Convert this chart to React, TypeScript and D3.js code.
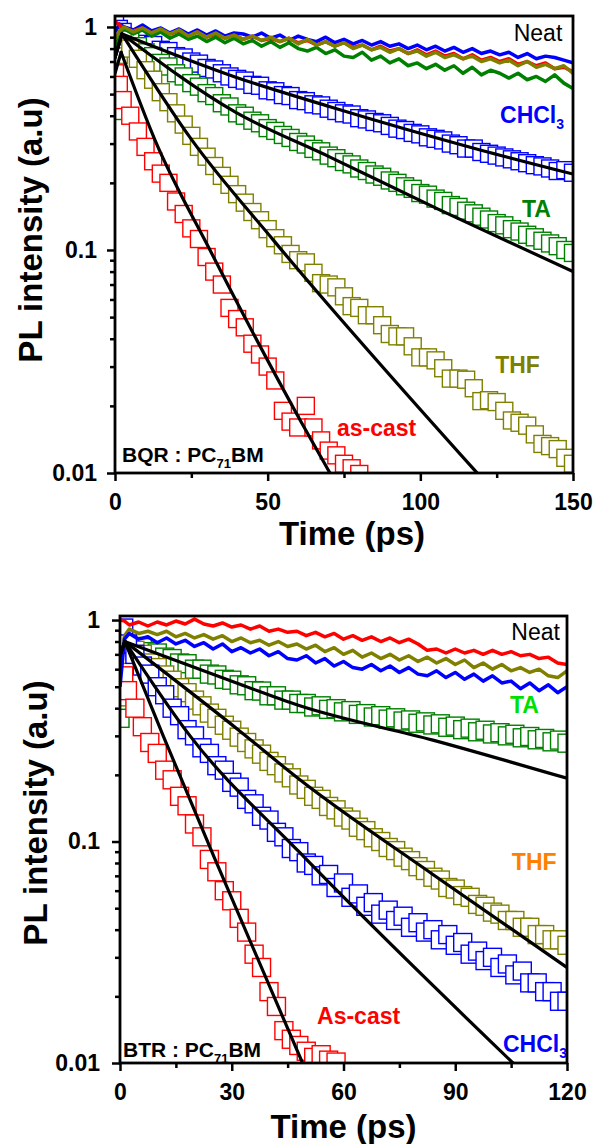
import { useEffect, useRef } from 'react';
import * as d3 from 'd3';

const FONT = '"Liberation Sans", Arial, Helvetica, sans-serif';

// ---------- panel 1 : BQR : PC71BM ----------
// neat films, plotted as lines
const timeBQR = [0, 1.5, 3, 6, 9, 12, 15, 18, 21, 24, 27, 30, 33, 36, 39, 42, 45, 48, 51, 54, 57, 60, 63, 66, 69, 72, 75, 78, 81, 84, 87, 90, 93, 96, 99, 102, 105, 108, 111, 114, 117, 120, 123, 126, 129, 132, 135, 138, 141, 144, 147, 150];
const bqrNeatBlue = [0.95, 1.03, 1.0, 0.97, 1.02, 0.96, 0.99, 0.94, 0.98, 0.93, 0.97, 0.92, 0.96, 0.91, 0.94, 0.93, 0.9, 0.94, 0.89, 0.92, 0.87, 0.91, 0.88, 0.86, 0.9, 0.85, 0.88, 0.84, 0.87, 0.83, 0.86, 0.82, 0.84, 0.8, 0.83, 0.79, 0.82, 0.78, 0.81, 0.77, 0.8, 0.76, 0.78, 0.75, 0.77, 0.73, 0.76, 0.72, 0.74, 0.73, 0.71, 0.69];
const bqrNeatRed = [1.06, 1.02, 0.98, 0.96, 0.99, 0.94, 0.97, 0.93, 0.96, 0.91, 0.95, 0.9, 0.93, 0.89, 0.92, 0.88, 0.91, 0.87, 0.89, 0.86, 0.89, 0.85, 0.87, 0.83, 0.86, 0.82, 0.85, 0.81, 0.83, 0.79, 0.82, 0.78, 0.8, 0.76, 0.79, 0.75, 0.78, 0.74, 0.76, 0.72, 0.75, 0.71, 0.73, 0.7, 0.72, 0.68, 0.7, 0.67, 0.69, 0.65, 0.66, 0.63];
const bqrNeatGreen = [0.8, 0.94, 0.98, 0.93, 0.97, 0.91, 0.95, 0.89, 0.93, 0.88, 0.91, 0.86, 0.9, 0.85, 0.89, 0.84, 0.87, 0.82, 0.86, 0.81, 0.85, 0.8, 0.78, 0.81, 0.76, 0.79, 0.74, 0.73, 0.77, 0.71, 0.74, 0.69, 0.72, 0.67, 0.69, 0.65, 0.68, 0.64, 0.67, 0.62, 0.66, 0.61, 0.64, 0.62, 0.59, 0.62, 0.58, 0.6, 0.57, 0.61, 0.56, 0.53];
const bqrNeatOlive = [0.88, 0.96, 1.0, 0.95, 0.99, 0.94, 0.98, 0.93, 0.97, 0.91, 0.95, 0.9, 0.94, 0.89, 0.92, 0.88, 0.91, 0.87, 0.9, 0.86, 0.89, 0.84, 0.88, 0.83, 0.86, 0.82, 0.85, 0.8, 0.83, 0.79, 0.81, 0.77, 0.8, 0.76, 0.78, 0.74, 0.77, 0.73, 0.75, 0.72, 0.74, 0.7, 0.72, 0.69, 0.71, 0.67, 0.7, 0.66, 0.68, 0.65, 0.67, 0.62];

// blends, plotted as open squares
const timeBQRsq = [0, 1.25, 2.5, 5, 7.5, 10, 12.5, 15, 17.5, 20, 22.5, 25, 27.5, 30, 32.5, 35, 37.5, 40, 42.5, 45, 47.5, 50, 52.5, 55, 57.5, 60, 62.5, 65, 67.5, 70, 72.5, 75, 77.5, 80, 82.5, 85, 87.5, 90, 92.5, 95, 97.5, 100, 102.5, 105, 107.5, 110, 112.5, 115, 117.5, 120, 122.5, 125, 127.5, 130, 132.5, 135, 137.5, 140, 142.5, 145, 147.5, 150];
const bqrChcl3 = [1.05, 0.98, 0.95, 0.9, 0.88, 0.84, 0.83, 0.79, 0.78, 0.74, 0.73, 0.7, 0.685, 0.655, 0.645, 0.62, 0.6, 0.585, 0.575, 0.55, 0.545, 0.52, 0.515, 0.495, 0.49, 0.47, 0.465, 0.45, 0.445, 0.43, 0.42, 0.41, 0.405, 0.39, 0.385, 0.375, 0.37, 0.36, 0.35, 0.345, 0.335, 0.33, 0.32, 0.315, 0.31, 0.3, 0.295, 0.285, 0.285, 0.275, 0.27, 0.265, 0.26, 0.255, 0.25, 0.245, 0.24, 0.237, 0.232, 0.226, 0.228, 0.222];
const bqrTA = [0.42, 0.78, 0.9, 0.86, 0.82, 0.77, 0.74, 0.69, 0.665, 0.62, 0.6, 0.56, 0.54, 0.505, 0.49, 0.455, 0.44, 0.41, 0.4, 0.38, 0.37, 0.352, 0.342, 0.328, 0.318, 0.305, 0.297, 0.284, 0.277, 0.265, 0.258, 0.248, 0.242, 0.232, 0.226, 0.218, 0.213, 0.205, 0.2, 0.193, 0.188, 0.18, 0.177, 0.17, 0.166, 0.159, 0.156, 0.15, 0.146, 0.141, 0.137, 0.132, 0.129, 0.124, 0.121, 0.117, 0.114, 0.11, 0.107, 0.104, 0.1, 0.097];
const bqrTHF = [0.5, 0.75, 0.88, 0.8, 0.72, 0.64, 0.58, 0.51, 0.46, 0.41, 0.365, 0.325, 0.29, 0.262, 0.238, 0.215, 0.196, 0.178, 0.163, 0.148, 0.136, 0.124, 0.113, 0.105, 0.096, 0.09, 0.088, 0.079, 0.071, 0.07, 0.068, 0.062, 0.056, 0.055, 0.051, 0.051, 0.046, 0.042, 0.041, 0.041, 0.037, 0.033, 0.033, 0.032, 0.0295, 0.0265, 0.0265, 0.0262, 0.024, 0.021, 0.0212, 0.0208, 0.019, 0.0172, 0.0168, 0.0163, 0.0149, 0.0135, 0.0132, 0.0128, 0.0117, 0.011];
const bqrAscast = [0.62, 0.55, 0.47, 0.4, 0.34, 0.29, 0.25, 0.22, 0.2, 0.165, 0.145, 0.125, 0.112, 0.093, 0.08, 0.07, 0.055, 0.049, 0.045, 0.038, 0.034, 0.03, 0.026, 0.019, 0.017, 0.016, 0.02, 0.016, 0.014, 0.0126, 0.012, 0.011, 0.0105, 0.0099];

// fitted decays
const bqrFitChcl3T = [0, 2.3, 39.3, 70.4, 119.6, 150];
const bqrFitChcl3 = [0.73, 0.93, 0.597, 0.439, 0.281, 0.219];
const bqrFitTAT = [0, 2.3, 39.3, 70.4, 106.5, 150];
const bqrFitTA = [0.73, 0.93, 0.416, 0.261, 0.151, 0.08];
const bqrFitTHFT = [0, 2.3, 25.2, 51.8, 118.6];
const bqrFitTHF = [0.73, 0.93, 0.311, 0.111, 0.01];
const bqrFitAscastT = [0, 2.0, 13.1, 31.1, 60.6, 70.4];
const bqrFitAscast = [0.62, 0.77, 0.311, 0.1, 0.0173, 0.01];

// ---------- panel 2 : BTR : PC71BM ----------
const timeBTR = [0, 1.2, 2.5, 5, 7.5, 10, 12.5, 15, 17.5, 20, 22.5, 25, 27.5, 30, 32.5, 35, 37.5, 40, 42.5, 45, 47.5, 50, 52.5, 55, 57.5, 60, 62.5, 65, 67.5, 70, 72.5, 75, 77.5, 80, 82.5, 85, 87.5, 90, 92.5, 95, 97.5, 100, 102.5, 105, 107.5, 110, 112.5, 115, 117.5, 120];
const btrNeatRed = [1.0, 0.99, 0.95, 0.98, 0.94, 0.98, 0.95, 0.99, 0.96, 1.01, 0.96, 0.94, 0.97, 0.93, 0.95, 0.91, 0.94, 0.89, 0.91, 0.88, 0.89, 0.85, 0.88, 0.84, 0.87, 0.82, 0.85, 0.81, 0.84, 0.8, 0.83, 0.79, 0.82, 0.78, 0.73, 0.74, 0.71, 0.74, 0.71, 0.73, 0.7, 0.73, 0.7, 0.72, 0.69, 0.7, 0.67, 0.68, 0.64, 0.63];
const btrNeatOlive = [0.55, 0.85, 0.91, 0.87, 0.89, 0.86, 0.89, 0.84, 0.87, 0.83, 0.86, 0.82, 0.85, 0.8, 0.83, 0.79, 0.81, 0.77, 0.8, 0.76, 0.78, 0.74, 0.77, 0.72, 0.75, 0.7, 0.73, 0.68, 0.71, 0.67, 0.7, 0.66, 0.69, 0.65, 0.68, 0.64, 0.67, 0.63, 0.66, 0.61, 0.64, 0.6, 0.63, 0.59, 0.61, 0.58, 0.6, 0.56, 0.55, 0.59];
const btrNeatBlue = [0.5, 0.82, 0.87, 0.82, 0.84, 0.79, 0.83, 0.78, 0.81, 0.76, 0.79, 0.74, 0.78, 0.72, 0.75, 0.71, 0.74, 0.69, 0.72, 0.67, 0.66, 0.69, 0.64, 0.67, 0.62, 0.65, 0.61, 0.6, 0.63, 0.59, 0.62, 0.58, 0.61, 0.57, 0.56, 0.59, 0.55, 0.58, 0.54, 0.57, 0.53, 0.56, 0.52, 0.53, 0.49, 0.52, 0.48, 0.51, 0.47, 0.5];

const timeBTRsq = [0, 1, 2, 4, 6, 8, 10, 12, 14, 16, 18, 20, 22, 24, 26, 28, 30, 32, 34, 36, 38, 40, 42, 44, 46, 48, 50, 52, 54, 56, 58, 60, 62, 64, 66, 68, 70, 72, 74, 76, 78, 80, 82, 84, 86, 88, 90, 92, 94, 96, 98, 100, 102, 104, 106, 108, 110, 112, 114, 116, 118, 120];
const btrTA = [0.36, 0.72, 0.8, 0.76, 0.75, 0.72, 0.71, 0.68, 0.67, 0.64, 0.635, 0.6, 0.6, 0.57, 0.565, 0.54, 0.535, 0.51, 0.505, 0.48, 0.478, 0.455, 0.455, 0.435, 0.435, 0.42, 0.42, 0.405, 0.41, 0.395, 0.398, 0.385, 0.39, 0.375, 0.378, 0.365, 0.37, 0.357, 0.362, 0.35, 0.354, 0.342, 0.347, 0.336, 0.34, 0.328, 0.332, 0.32, 0.325, 0.313, 0.318, 0.306, 0.31, 0.3, 0.305, 0.294, 0.298, 0.288, 0.292, 0.282, 0.287, 0.278];
const btrTHF = [0.45, 0.7, 0.8, 0.73, 0.7, 0.64, 0.61, 0.565, 0.535, 0.495, 0.47, 0.435, 0.41, 0.38, 0.36, 0.335, 0.318, 0.296, 0.28, 0.262, 0.248, 0.23, 0.22, 0.204, 0.194, 0.18, 0.172, 0.16, 0.155, 0.144, 0.139, 0.129, 0.125, 0.116, 0.112, 0.104, 0.1, 0.094, 0.091, 0.085, 0.082, 0.077, 0.074, 0.069, 0.067, 0.062, 0.061, 0.057, 0.056, 0.052, 0.051, 0.048, 0.047, 0.044, 0.044, 0.041, 0.041, 0.038, 0.038, 0.036, 0.036, 0.034];
const btrChcl3 = [0.52, 0.92, 0.78, 0.7, 0.62, 0.57, 0.5, 0.46, 0.4, 0.37, 0.32, 0.3, 0.265, 0.25, 0.22, 0.21, 0.185, 0.176, 0.155, 0.148, 0.13, 0.125, 0.11, 0.105, 0.093, 0.09, 0.08, 0.078, 0.07, 0.071, 0.062, 0.065, 0.056, 0.058, 0.051, 0.053, 0.047, 0.049, 0.044, 0.046, 0.041, 0.043, 0.039, 0.04, 0.036, 0.038, 0.034, 0.035, 0.031, 0.032, 0.029, 0.03, 0.027, 0.028, 0.025, 0.026, 0.023, 0.023, 0.021, 0.021, 0.019, 0.019];
const btrAscast = [0.5, 0.56, 0.48, 0.4, 0.33, 0.28, 0.25, 0.21, 0.19, 0.16, 0.145, 0.12, 0.105, 0.083, 0.073, 0.06, 0.054, 0.045, 0.039, 0.031, 0.027, 0.021, 0.018, 0.014, 0.0128, 0.012, 0.0113, 0.0106, 0.0109, 0.0103, 0.0101];

const btrFitTAT = [0, 1.3, 32.2, 48.3, 84, 120];
const btrFitTA = [0.69, 0.8, 0.513, 0.41, 0.287, 0.193];
const btrFitTHFT = [0, 1.3, 32.2, 48.3, 84, 120];
const btrFitTHF = [0.69, 0.8, 0.315, 0.19, 0.071, 0.027];
const btrFitChcl3T = [0, 1.3, 18.8, 48.3, 105.5];
const btrFitChcl3 = [0.69, 0.8, 0.3, 0.089, 0.01];
const btrFitAscastT = [0, 1.3, 11.6, 26.8, 49];
const btrFitAscast = [0.69, 0.8, 0.3, 0.074, 0.01];

const BLUE = '#0000ff';
const RED = '#ff0000';
const GREEN = '#008000';
const OLIVE = '#808000';

const zip = (t, v) => v.map((d, i) => [t[i], d]);

const panels = [
    {
        id: 'bqr',
        left: 115, right: 573, top: 16, bottom: 473,
        xDomain: [0, 150], yDomain: [0.01, 1.12],
        xMajor: [0, 50, 100, 150], xMinor: [25, 75, 125],
        yLabelPad: 10, markerSize: 17,
        squares: [
            { color: BLUE, pts: zip(timeBQRsq, bqrChcl3) },
            { color: GREEN, pts: zip(timeBQRsq, bqrTA) },
            { color: OLIVE, pts: zip(timeBQRsq, bqrTHF) },
            { color: RED, pts: zip(timeBQRsq, bqrAscast) },
        ],
        neat: [
            { color: BLUE, pts: zip(timeBQR, bqrNeatBlue) },
            { color: RED, pts: zip(timeBQR, bqrNeatRed) },
            { color: GREEN, pts: zip(timeBQR, bqrNeatGreen) },
            { color: OLIVE, pts: zip(timeBQR, bqrNeatOlive) },
        ],
        fits: [
            zip(bqrFitChcl3T, bqrFitChcl3),
            zip(bqrFitTAT, bqrFitTA),
            zip(bqrFitTHFT, bqrFitTHF),
            zip(bqrFitAscastT, bqrFitAscast),
        ],
        labels: [
            { t: 146.5, v: 0.865, text: 'Neat', color: '#000', weight: 'normal', anchor: 'end' },
            { t: 126.1, v: 0.371, text: 'CHCl', sub: '3', color: BLUE },
            { t: 133.3, v: 0.141, text: 'TA', color: GREEN },
            { t: 124.5, v: 0.0281, text: 'THF', color: OLIVE },
            { t: 72.7, v: 0.0147, text: 'as-cast', color: RED },
            { t: 2.3, v: 0.0112, text: 'BQR : PC', sub: '71', after: 'BM', color: '#000', size: 21 },
        ],
        xTitle: { dx: 8, y: 545 },
        yTitle: { x: 42, y: 230 },
    },
    {
        id: 'btr',
        left: 120, right: 567, top: 616, bottom: 1063,
        xDomain: [0, 120], yDomain: [0.01, 1.043],
        xMajor: [0, 30, 60, 90, 120], xMinor: [15, 45, 75, 105],
        yLabelPad: 12, markerSize: 18,
        squares: [
            { color: GREEN, pts: zip(timeBTRsq, btrTA) },
            { color: OLIVE, pts: zip(timeBTRsq, btrTHF) },
            { color: BLUE, pts: zip(timeBTRsq, btrChcl3) },
            { color: RED, pts: zip(timeBTRsq, btrAscast) },
        ],
        neat: [
            { color: RED, pts: zip(timeBTR, btrNeatRed) },
            { color: OLIVE, pts: zip(timeBTR, btrNeatOlive) },
            { color: BLUE, pts: zip(timeBTR, btrNeatBlue) },
        ],
        fits: [
            zip(btrFitTAT, btrFitTA),
            zip(btrFitTHFT, btrFitTHF),
            zip(btrFitChcl3T, btrFitChcl3),
            zip(btrFitAscastT, btrFitAscast),
        ],
        labels: [
            { t: 118.1, v: 0.812, text: 'Neat', color: '#000', weight: 'normal', anchor: 'end' },
            { t: 104.7, v: 0.38, text: 'TA', color: '#00e000' },
            { t: 105.2, v: 0.0743, text: 'THF', color: '#ff8000' },
            { t: 52.9, v: 0.015, text: 'As-cast', color: RED },
            { t: 102.8, v: 0.01127, text: 'CHCl', sub: '3', color: BLUE },
            { t: 0.8, v: 0.0106, text: 'BTR : PC', sub: '71', after: 'BM', color: '#000', size: 21 },
        ],
        xTitle: { dx: 0, y: 1138 },
        yTitle: { x: 47, y: 813 },
    },
];

function drawPanel(svg, p) {
    const x = d3.scaleLinear().domain(p.xDomain).range([p.left, p.right]);
    const y = d3.scaleLog().domain(p.yDomain).range([p.bottom, p.top]);

    svg.append('clipPath').attr('id', `clip-${p.id}`)
        .append('rect')
        .attr('x', p.left).attr('y', p.top)
        .attr('width', p.right - p.left).attr('height', p.bottom - p.top);

    const plot = svg.append('g').attr('clip-path', `url(#clip-${p.id})`);
    const s = p.markerSize;

    // open squares, white filled so later points sit on top of earlier ones
    p.squares.forEach(series => {
        plot.append('g').selectAll('rect')
            .data(series.pts)
            .join('rect')
            .attr('x', d => x(d[0]) - s / 2)
            .attr('y', d => y(d[1]) - s / 2)
            .attr('width', s).attr('height', s)
            .attr('fill', 'white')
            .attr('stroke', series.color)
            .attr('stroke-width', 1.4);
    });

    const line = d3.line().x(d => x(d[0])).y(d => y(d[1]));
    p.neat.forEach(series => {
        plot.append('path')
            .attr('d', line(series.pts))
            .attr('fill', 'none')
            .attr('stroke', series.color)
            .attr('stroke-width', 3.5)
            .attr('stroke-linejoin', 'round');
    });

    // fits: short rise (straight) then a smooth decay from the peak
    const decay = d3.line().x(d => x(d[0])).y(d => y(d[1])).curve(d3.curveMonotoneX);
    p.fits.forEach(pts => {
        const peak = d3.maxIndex(pts, d => d[1]);
        [line(pts.slice(0, peak + 1)), decay(pts.slice(peak))].forEach(dPath => {
            plot.append('path')
                .attr('d', dPath)
                .attr('fill', 'none')
                .attr('stroke', '#000')
                .attr('stroke-width', 3.2)
                .attr('stroke-linejoin', 'round')
                .attr('stroke-linecap', 'round');
        });
    });

    // x axis
    const xAxis = svg.append('g').attr('transform', `translate(0, ${p.bottom})`);
    xAxis.call(d3.axisBottom(x).tickValues(p.xMajor).tickSize(8).tickPadding(13).tickFormat(d3.format('d')));
    xAxis.append('g').call(d3.axisBottom(x).tickValues(p.xMinor).tickSize(5).tickFormat(() => ''));

    // y axis, major and minor log ticks
    const yMajor = [0.01, 0.1, 1];
    const yMinor = [];
    [0.01, 0.1].forEach(dec => d3.range(2, 10).forEach(k => yMinor.push(dec * k)));
    const yAxis = svg.append('g').attr('transform', `translate(${p.left}, 0)`);
    yAxis.call(d3.axisLeft(y).tickValues(yMajor).tickSize(8).tickPadding(p.yLabelPad).tickFormat(d => String(d)));
    yAxis.append('g').call(d3.axisLeft(y).tickValues(yMinor.filter(v => v <= p.yDomain[1])).tickSize(5).tickFormat(() => ''));

    [xAxis, yAxis].forEach(g => {
        g.selectAll('.domain').remove();
        g.selectAll('line').attr('stroke', '#000').attr('stroke-width', 2.5);
        g.selectAll('text')
            .attr('fill', '#000')
            .style('font-family', FONT)
            .style('font-size', '23px')
            .style('font-weight', 'bold');
    });

    // frame
    svg.append('rect')
        .attr('x', p.left).attr('y', p.top)
        .attr('width', p.right - p.left).attr('height', p.bottom - p.top)
        .attr('fill', 'none').attr('stroke', '#000').attr('stroke-width', 2.8);

    // curve labels
    p.labels.forEach(l => {
        const size = l.size || 23;
        const t = svg.append('text')
            .attr('x', x(l.t)).attr('y', y(l.v))
            .attr('fill', l.color)
            .attr('text-anchor', l.anchor || 'start')
            .style('font-family', FONT)
            .style('font-size', `${size}px`)
            .style('font-weight', l.weight || 'bold');
        t.append('tspan').text(l.text);
        if (l.sub) {
            t.append('tspan').attr('dy', 6).style('font-size', `${Math.round(size * 0.62)}px`).text(l.sub);
            if (l.after) t.append('tspan').attr('dy', -6).text(l.after);
        }
    });

    // axis titles
    svg.append('text')
        .attr('x', (p.left + p.right) / 2 + p.xTitle.dx).attr('y', p.xTitle.y)
        .attr('text-anchor', 'middle')
        .style('font-family', FONT).style('font-size', '33px').style('font-weight', 'bold')
        .text('Time (ps)');
    svg.append('text')
        .attr('transform', `translate(${p.yTitle.x}, ${p.yTitle.y}) rotate(-90)`)
        .attr('text-anchor', 'middle')
        .style('font-family', FONT).style('font-size', '33px').style('font-weight', 'bold')
        .text('PL intensity (a.u)');
}

const App = () => {
    const svgRef = useRef(null);

    useEffect(() => {
        const svg = d3.select(svgRef.current);
        svg.selectAll('*').remove();
        panels.forEach(p => drawPanel(svg, p));
    }, []);

    return (
        <svg
            ref={svgRef}
            width={595}
            height={1144}
            style={{ position: 'absolute', left: 0, top: 0, background: 'white' }}
        />
    );
};

export default App;
